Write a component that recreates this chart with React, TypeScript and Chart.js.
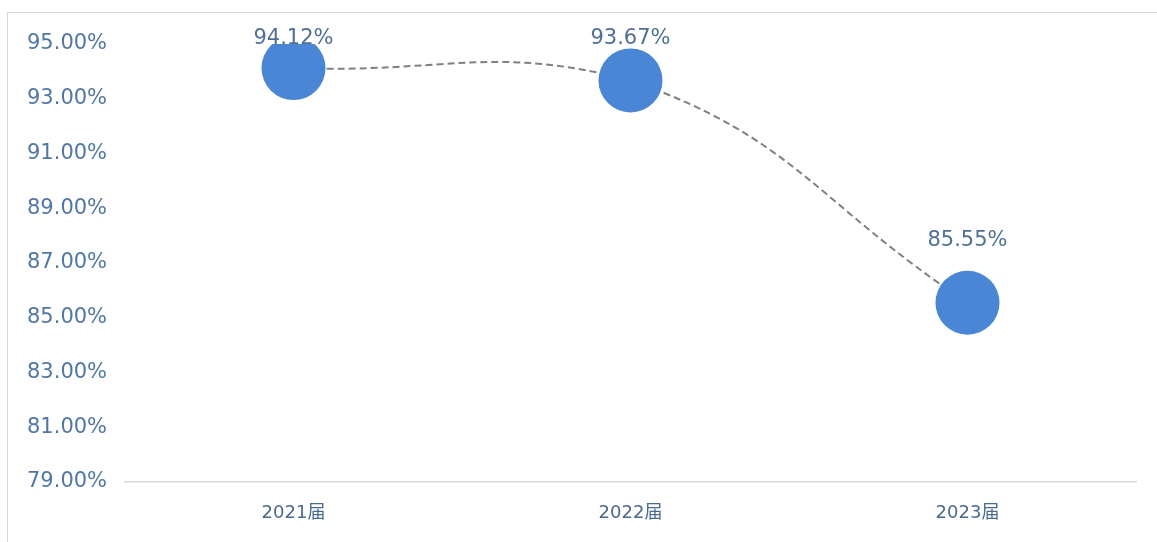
import React, { useEffect, useRef } from "react";
import { Chart, registerables } from "chart.js";

Chart.register(...registerables);

const categories = ["2021届", "2022届", "2023届"];
const rates = [94.12, 93.67, 85.55];
const yTicks = [79, 81, 83, 85, 87, 89, 91, 93, 95];

const FONT = '"DejaVu Sans","Noto Sans CJK SC",sans-serif';

const labelPlugin = {
  id: "valueLabels",
  afterDatasetsDraw(chart: any) {
    const { ctx, chartArea } = chart;
    const meta = chart.getDatasetMeta(0);
    ctx.save();
    ctx.font = `21px ${FONT}`;
    ctx.fillStyle = "#4f6f99";
    ctx.textAlign = "center";
    ctx.textBaseline = "middle";
    meta.data.forEach((pt: any, i: number) => {
      const y = Math.max(pt.y - 62, chartArea.top - 5);
      ctx.fillText(rates[i].toFixed(2) + "%", pt.x, y);
    });
    ctx.restore();
  },
};

export default function App() {
  const ref = useRef<HTMLCanvasElement>(null);
  useEffect(() => {
    if (!ref.current) return;
    const chart = new Chart(ref.current, {
      type: "line",
      data: {
        labels: categories,
        datasets: [
          {
            data: rates,
            borderColor: "#808080",
            borderWidth: 2,
            borderDash: [7, 4],
            tension: 0.45,
            pointRadius: 32,
            pointHoverRadius: 32,
            pointBackgroundColor: "#4a86d6",
            pointBorderColor: "#4a86d6",
            pointBorderWidth: 0,
            fill: false,
          },
        ],
      },
      options: {
        animation: false,
        responsive: false,
        maintainAspectRatio: false,
        layout: { autoPadding: false, padding: { left: 27, right: 21, top: 44, bottom: 0 } },
        plugins: { legend: { display: false }, tooltip: { enabled: false } },
        scales: {
          x: {
            offset: true,
            grid: { display: false, drawTicks: false },
            border: { display: true, color: "#d9d9d9", width: 1.5 },
            ticks: { color: "#4a6a92", font: { family: FONT, size: 18 }, padding: 21 },
            afterFit(scale: any) {
              scale.height = 60;
            },
          },
          y: {
            min: 79,
            max: 95,
            afterBuildTicks(scale: any) {
              scale.ticks = yTicks.map((v) => ({ value: v }));
            },
            grid: { display: false, drawTicks: false },
            border: { display: false },
            ticks: {
              color: "#4f77a8",
              crossAlign: "far",
              font: { family: FONT, size: 21 },
              callback: (v: any) => Number(v).toFixed(2) + "%",
            },
            afterFit(scale: any) {
              scale.width = 98;
            },
          },
        },
      },
      plugins: [labelPlugin],
    });
    return () => chart.destroy();
  }, []);
  return (
    <div style={{ position: "fixed", left: 0, top: 0, width: 1157, height: 542, background: "#fff" }}>
      <div
        style={{
          position: "absolute",
          left: 7,
          top: 12,
          right: 0,
          bottom: 0,
          borderTop: "1px solid #d6d6d6",
          borderLeft: "1px solid #d6d6d6",
        }}
      />
      <canvas ref={ref} width={1157} height={542} style={{ position: "absolute", left: 0, top: 0 }} />
    </div>
  );
}
